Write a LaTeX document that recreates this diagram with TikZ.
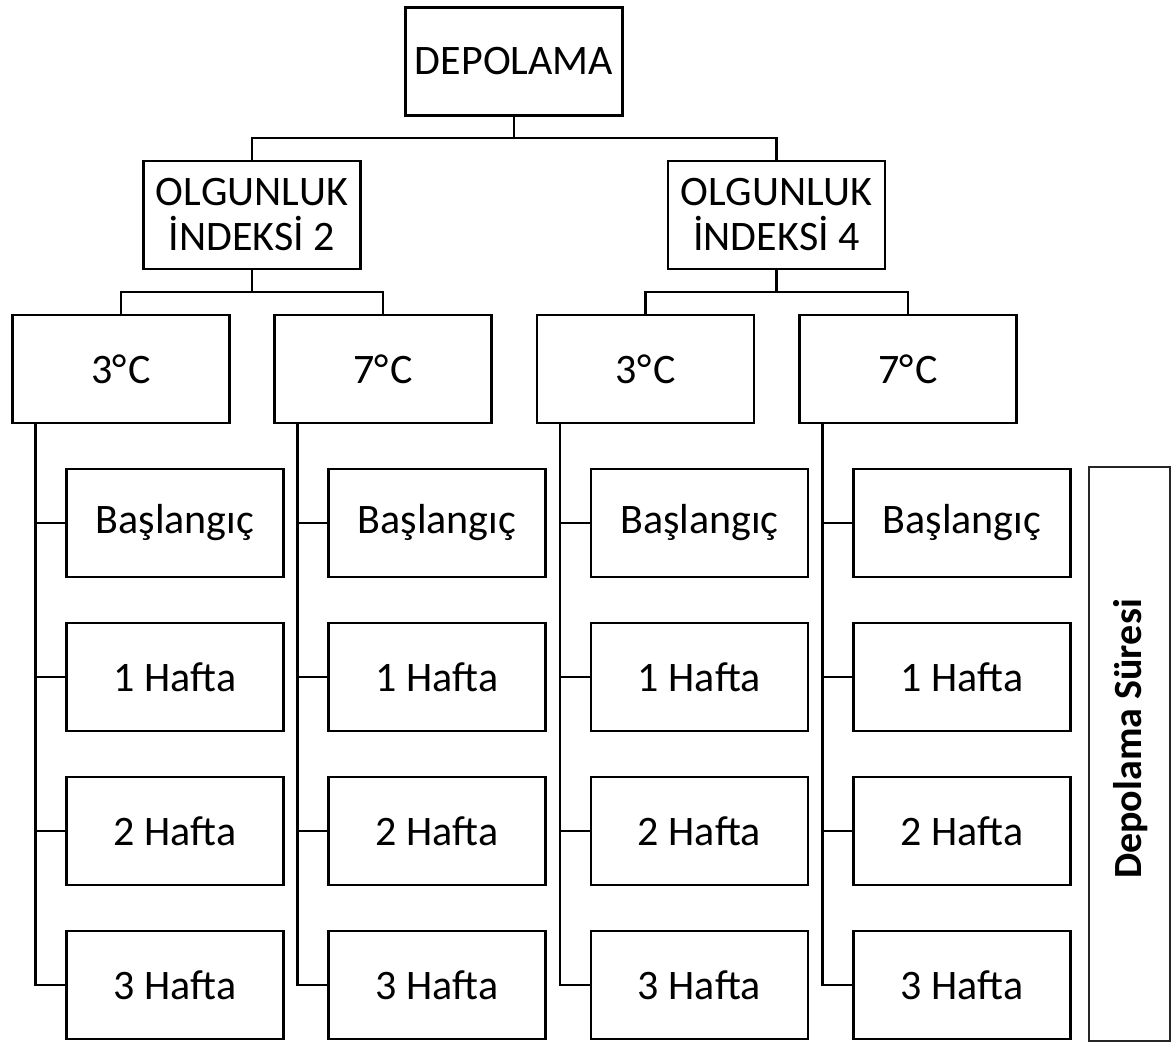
\documentclass[tikz,border=0pt]{standalone}
\usepackage{fontspec}
\setmainfont[Kerning=Off]{Carlito}
\newcommand{\degC}{\kern0.5pt°\kern1.5pt C}
\begin{document}
\begin{tikzpicture}[x=1pt,y=-1pt,
  box/.style={draw=black, line width=2.2pt, rectangle, inner sep=0pt, outer sep=0pt,
    minimum width=217, minimum height=108, align=center,
    font=\fontsize{42}{45}\selectfont},
  conn/.style={draw=black, line width=2.2pt},
  sidebox/.style={draw=black!85, line width=1.4pt, fill=none}]
\useasboundingbox (0,0) rectangle (1176,1044);
% level 1
\node[box] (dep) at (514,61.5) {DEPOLAMA};
% level 2
\node[box] (oi2) at (252,215) {OLGUNLUK\\İNDEKSİ 2};
\node[box] (oi4) at (776.5,215) {OLGUNLUK\\İNDEKSİ 4};
\coordinate (j1) at (514,138);
\draw[conn] (dep.south) -- (j1);
\draw[conn] (oi2.north) |- (j1) -| (oi4.north);
% level 3
\node[box] (c1) at (121,369) {3\degC};
\node[box] (c2) at (383,369) {7\degC};
\node[box] (c3) at (645.5,369) {3\degC};
\node[box] (c4) at (908,369) {7\degC};
\coordinate (j2) at (252,292);
\coordinate (j3) at (776.5,292);
\draw[conn] (oi2.south) -- (j2);
\draw[conn] (c1.north) |- (j2) -| (c2.north);
\draw[conn] (oi4.south) -- (j3);
\draw[conn] (c3.north) |- (j3) -| (c4.north);
% leaves
\foreach \c/\lx in {1/175,2/437,3/699.5,4/962}{
  \node[box] (l\c a) at (\lx,523) {Başlangıç};
  \node[box] (l\c b) at (\lx,677) {1 Hafta};
  \node[box] (l\c c) at (\lx,831) {2 Hafta};
  \node[box] (l\c d) at (\lx,985) {3 Hafta};
  \coordinate (s\c) at ([xshift=23pt]c\c.south west);
  \draw[conn] (s\c) |- (l\c d.west);
  \draw[conn] (s\c |- l\c a.west) -- (l\c a.west);
  \draw[conn] (s\c |- l\c b.west) -- (l\c b.west);
  \draw[conn] (s\c |- l\c c.west) -- (l\c c.west);
}
% side box
\draw[sidebox] (1089,467) rectangle (1170,1041);
\node[rotate=90, font=\fontsize{40}{44}\selectfont\bfseries, inner sep=0pt] (dur) at (1131,739) {Depolama Süresi};
\end{tikzpicture}
\end{document}
